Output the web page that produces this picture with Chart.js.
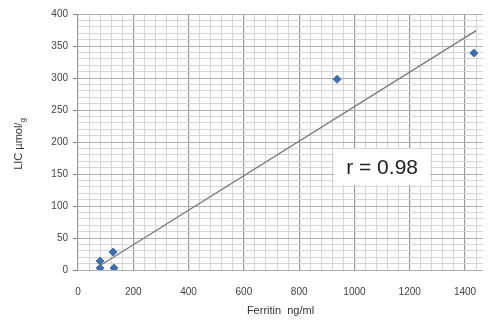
<!DOCTYPE html>
<html>
<head>
<meta charset="utf-8">
<script src="https://cdn.jsdelivr.net/npm/chart.js@4/dist/chart.umd.min.js"></script>
<style>
  html, body { margin: 0; padding: 0; background: #fff; }
  #wrap { width: 489px; height: 322px; position: relative; }
</style>
</head>
<body>
<div id="wrap"><canvas id="chart"></canvas></div>
<script>
// ferritin (ng/ml) vs LIC
const ferritin = [80, 80, 127, 130, 937, 1432];
const lic = [14, 3, 28, 3, 298, 339];
const trendX = [80, 1440];
const trendY = [7, 374];
const rLabel = 'r = 0.98';
const rLabelAt = { x: 1100, y: 161 };

const points = ferritin.map((f, i) => ({ x: f, y: lic[i] }));
const trend = trendX.map((f, i) => ({ x: f, y: trendY[i] }));

// white box with the r value, placed by data coords
const rBox = {
  id: 'rBox',
  afterDatasetsDraw(chart) {
    let ctx = chart.ctx;
    let px = chart.scales.x.getPixelForValue(rLabelAt.x);
    let py = chart.scales.y.getPixelForValue(rLabelAt.y);
    ctx.save();
    ctx.font = '21px "Liberation Sans", Arial, sans-serif';
    let w = ctx.measureText(rLabel).width;
    ctx.fillStyle = '#fff';
    ctx.fillRect(px - w / 2 - 12, py - 18, w + 24, 36);
    ctx.fillStyle = '#222';
    ctx.textAlign = 'center';
    ctx.textBaseline = 'middle';
    ctx.fillText(rLabel, px, py + 1);
    ctx.restore();
  }
};

// y title with subscript g
const yTitle = {
  id: 'yTitle',
  afterDraw(chart) {
    let ctx = chart.ctx;
    let cy = (chart.chartArea.top + chart.chartArea.bottom) / 2;
    ctx.save();
    ctx.translate(22, cy + 2);
    ctx.rotate(-Math.PI / 2);
    ctx.fillStyle = '#333';
    ctx.textBaseline = 'alphabetic';
    ctx.font = '11px "Liberation Sans", Arial, sans-serif';
    let main = 'LIC \u00b5mol/';
    let w1 = ctx.measureText(main).width;
    ctx.font = '8px "Liberation Sans", Arial, sans-serif';
    let w2 = ctx.measureText('g').width;
    let x0 = -(w1 + w2) / 2;
    ctx.font = '11px "Liberation Sans", Arial, sans-serif';
    ctx.fillText(main, x0, 0);
    ctx.font = '8px "Liberation Sans", Arial, sans-serif';
    ctx.fillText('g', x0 + w1, 3);
    ctx.restore();
  }
};

new Chart(document.getElementById('chart'), {
  type: 'scatter',
  data: {
    datasets: [
      {
        data: trend,
        type: 'line',
        showLine: true,
        borderColor: '#7a7a7a',
        borderWidth: 1.3,
        pointRadius: 0,
        fill: false
      },
      {
        data: points,
        pointStyle: 'rectRot',
        pointRadius: 4,
        backgroundColor: '#3f6db3',
        borderColor: '#3f6db3'
      }
    ]
  },
  plugins: [rBox, yTitle],
  options: {
    responsive: true,
    maintainAspectRatio: false,
    animation: false,
    layout: { padding: { top: 14, right: 6, left: 0, bottom: 0 } },
    plugins: {
      legend: { display: false },
      tooltip: { enabled: false }
    },
    scales: {
      x: {
        type: 'linear',
        min: 0,
        max: 1465,
        afterBuildTicks(scale) {
          let t = [];
          for (let v = 0; v <= 1460; v += 40) t.push({ value: v });
          scale.ticks = t;
        },
        afterFit(scale) {
          scale.height = 52;
          scale.paddingLeft = 0;
          scale.paddingRight = 0;
        },
        border: { display: false },
        grid: {
          color: ctx => ctx.tick.value % 200 === 0 ? '#9a9a9a' : '#d4d4d4',
          lineWidth: ctx => ctx.tick.value % 200 === 0 ? 1.2 : 1,
          drawTicks: false
        },
        ticks: {
          autoSkip: false,
          maxRotation: 0,
          padding: 16,
          color: '#444',
          font: { size: 10, family: '"Liberation Sans", Arial, sans-serif' },
          callback: v => v % 200 === 0 ? String(v) : ''
        },
        title: {
          display: true,
          text: 'Ferritin  ng/ml',
          color: '#333',
          padding: { top: 0 },
          font: { size: 11, family: '"Liberation Sans", Arial, sans-serif' }
        }
      },
      y: {
        min: 0,
        max: 400,
        afterBuildTicks(scale) {
          let t = [];
          for (let v = 0; v <= 400; v += 10) t.push({ value: v });
          scale.ticks = t;
        },
        afterFit(scale) {
          scale.width = 78;
          scale.paddingTop = 0;
          scale.paddingBottom = 0;
        },
        border: { display: false },
        grid: {
          color: ctx => ctx.tick.value % 50 === 0 ? '#b0b0b0' : '#d6d6d6',
          tickLength: 5,
          tickColor: ctx => ctx.tick.value % 50 === 0 ? '#888' : 'rgba(0,0,0,0)'
        },
        ticks: {
          autoSkip: false,
          padding: 5,
          color: '#444',
          font: { size: 10, family: '"Liberation Sans", Arial, sans-serif' },
          callback: v => v % 50 === 0 ? String(v) : ''
        }
      }
    }
  }
});
</script>
</body>
</html>
